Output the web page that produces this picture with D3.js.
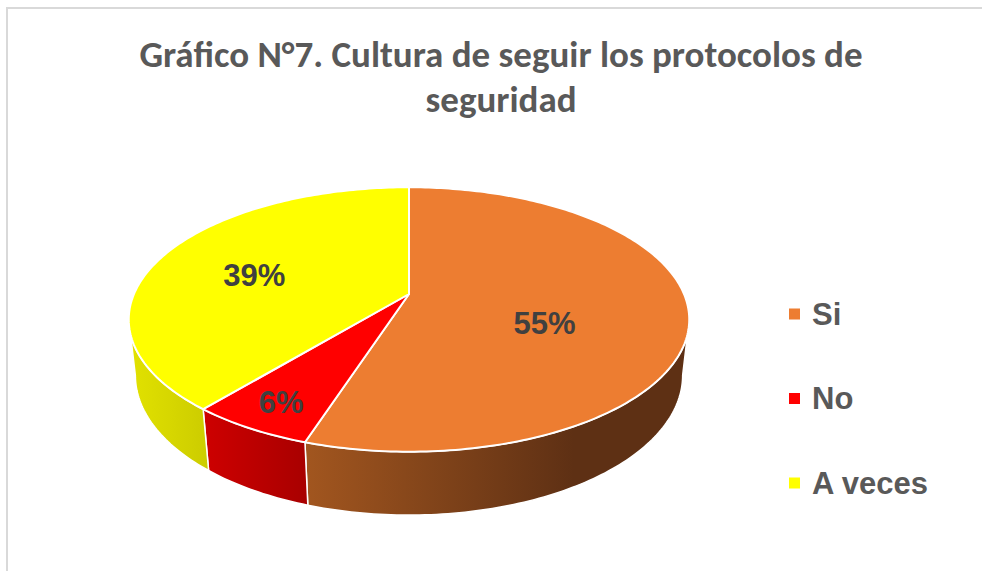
<!DOCTYPE html>
<html>
<head>
<meta charset="utf-8">
<script src="https://cdn.jsdelivr.net/npm/d3@7/dist/d3.min.js"></script>
<style>
  html, body { margin: 0; padding: 0; background: #fff; }
  svg { display: block; }
</style>
</head>
<body>
<svg id="chart" width="982" height="571"></svg>
<script>
// ---- data ----
const titleLines = ["Gráfico N°7. Cultura de seguir los protocolos de", "seguridad"];
const categories = ["Si", "No", "A veces"];
const values = [55, 6, 39];
const valueLabels = ["55%", "6%", "39%"];

// ---- styles / layout ----
const topColors = ["#ED7D31", "#FF0000", "#FFFF00"];
const sideStops = [["#A2561F", "#5E3014"], ["#CE0000", "#A80000"], ["#E2E200", "#CCCC00"]];
// label placement inside each slice: [fraction of slice angle, radius fraction]
const labelPlace = [[0.58, 0.52], [0.5, 0.83], [0.466, 0.6]];
const color = d3.scaleOrdinal().domain(categories).range(topColors);

const svg = d3.select("#chart");

// border
svg.append("rect").attr("x", 7).attr("y", 8).attr("width", 1000).attr("height", 700)
  .attr("fill", "#fff").attr("stroke", "#D9D9D9").attr("stroke-width", 2);

// title (two separate lines)
const tLines = titleLines.map((t, i) => svg.append("text").attr("text-anchor", "middle")
  .attr("x", 501)
  .attr("font-family", "Carlito, Lato, 'Open Sans', sans-serif")
  .attr("font-weight", "bold").attr("font-size", 30).attr("fill", "#595959").text(t));
const w0 = tLines[0].node().getComputedTextLength();
const fs = Math.min(37, 30 * 727 / w0);
tLines.forEach(t => t.attr("font-size", fs));
tLines[0].attr("y", 67);
tLines[1].attr("y", 67 + fs * 1.22);

// ---- perspective projection of a 3D pie ----
const cam = { cx: 409, cy: 294, f: 1265, D: 4.6, s: 0.463 };
cam.c = Math.sqrt(1 - cam.s * cam.s);
const depthH = 0.231;
function proj(theta, y, r = 1) {
  const x = r * Math.sin(theta), z = -r * Math.cos(theta);
  const depth = cam.D - (y * cam.s + z * cam.c);
  const v = y * cam.c - z * cam.s;
  return [cam.cx + cam.f * x / depth, cam.cy - cam.f * v / depth];
}

const pie = d3.pie().sort(null).value(d => d.value).startAngle(0).endAngle(2 * Math.PI);
const arcs = pie(categories.map((c, i) => ({ cat: c, value: values[i], label: valueLabels[i], i })));

function silhouette(y) {
  let maxX = -Infinity, minX = Infinity, tR = 0, tL = 0;
  for (let k = 0; k <= 3600; k++) {
    const t = k / 3600 * 2 * Math.PI;
    const p = proj(t, y);
    if (p[0] > maxX) { maxX = p[0]; tR = t; }
    if (p[0] < minX) { minX = p[0]; tL = t; }
  }
  return [tR, tL];
}
const silTop = silhouette(0), silBot = silhouette(-depthH);

function ringPts(a, b, y) {
  const n = Math.max(2, Math.ceil((b - a) / (Math.PI / 180)));
  return d3.range(n + 1).map(k => proj(a + (b - a) * k / n, y));
}

const defs = svg.append("defs");
const gSide = svg.append("g"), gTop = svg.append("g"), gLab = svg.append("g");

arcs.forEach(d => {
  const i = d.data.i;
  const ta = Math.max(d.startAngle, silTop[0]), tb = Math.min(d.endAngle, silTop[1]);
  const ba = Math.max(d.startAngle, silBot[0]), bb = Math.min(d.endAngle, silBot[1]);
  if (tb > ta && bb > ba) {
    const pts = ringPts(ta, tb, 0).concat(ringPts(ba, bb, -depthH).reverse());
    const xs = pts.map(p => p[0]);
    const gid = "side" + i;
    const lg = defs.append("linearGradient").attr("id", gid)
      .attr("gradientUnits", "userSpaceOnUse")
      .attr("x1", d3.min(xs)).attr("x2", d3.min(xs) + (d3.max(xs) - d3.min(xs)) * (i === 0 ? 0.7 : 1))
      .attr("y1", 0).attr("y2", 0);
    lg.append("stop").attr("offset", 0).attr("stop-color", sideStops[i][0]);
    lg.append("stop").attr("offset", 1).attr("stop-color", sideStops[i][1]);
    gSide.append("path").attr("d", "M" + pts.map(p => p.join(",")).join("L") + "Z")
      .attr("fill", `url(#${gid})`).attr("stroke", "#fff").attr("stroke-width", 1.5)
      .attr("stroke-linejoin", "round");
  }
  const topPts = [proj(0, 0, 0)].concat(ringPts(d.startAngle, d.endAngle, 0));
  gTop.append("path").attr("d", "M" + topPts.map(p => p.join(",")).join("L") + "Z")
    .attr("fill", color(d.data.cat)).attr("stroke", "#fff").attr("stroke-width", 2)
    .attr("stroke-linejoin", "round");
});

// labels
arcs.forEach(d => {
  const [fa, fr] = labelPlace[d.data.i];
  const p = proj(d.startAngle + (d.endAngle - d.startAngle) * fa, 0, fr);
  gLab.append("text").attr("x", p[0]).attr("y", p[1]).attr("dy", "0.36em")
    .attr("text-anchor", "middle")
    .attr("font-family", "'Liberation Sans', Arial, sans-serif")
    .attr("font-weight", "bold").attr("font-size", 31).attr("fill", "#404040")
    .text(d.data.label);
});

// legend
const leg = svg.append("g");
const ly = d3.scalePoint().domain(categories).range([314, 483]);
categories.forEach(c => {
  leg.append("rect").attr("x", 789).attr("y", ly(c) - 5.5).attr("width", 11).attr("height", 11)
    .attr("fill", color(c));
  leg.append("text").attr("x", 812).attr("y", ly(c) + 10.5)
    .attr("font-family", "'Liberation Sans', Arial, sans-serif")
    .attr("font-weight", "bold").attr("font-size", 31).attr("fill", "#595959").text(c);
});
</script>
</body>
</html>
